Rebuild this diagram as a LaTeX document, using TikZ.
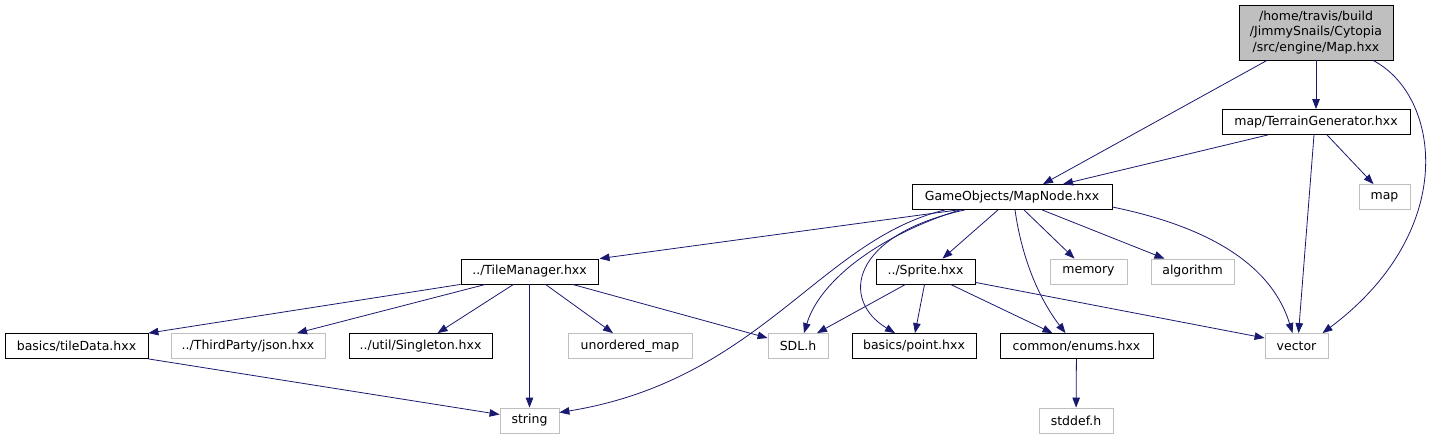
\documentclass[tikz,border=0pt]{standalone}
\usepackage{fontspec}
\setmainfont{DejaVu Sans}
\usepackage{tikz}
\usetikzlibrary{arrows.meta}
\definecolor{edgeblue}{HTML}{191970}
\definecolor{sysgray}{HTML}{BFBFBF}

\begin{document}
\begin{tikzpicture}[x=1pt, y=-1pt,
  file/.style={draw=black, rectangle, minimum height=25pt, inner sep=0pt,
    line width=0.8pt, font=\fontsize{12.5}{15.5}\selectfont},
  sys/.style={file, draw=sysgray},
  dep/.style={draw=edgeblue, line width=0.8pt,
    -{Triangle[length=10pt, width=7.5pt]}}]
  \useasboundingbox (0,0) rectangle (1442,440);

  % Top: the graphed file and its direct includes
  \node[file, fill=sysgray, minimum width=154pt, minimum height=55pt, align=center]
    (map) at (1316,32.5) {/home/travis/build\\/JimmySnails/Cytopia\\/src/engine/Map.hxx};
  \node[file, minimum width=188pt] (terrain) at (1316,122) {map/TerrainGenerator.hxx};
  \node[sys, minimum width=51pt] (mapl) at (1384.5,197) {map};
  \node[file, minimum width=200pt] (mapnode) at (1012,197) {GameObjects/MapNode.hxx};

  % Second row
  \node[file, minimum width=137pt] (tilemgr) at (529.5,271.5) {../TileManager.hxx};
  \node[file, minimum width=99pt] (sprite) at (925.5,271.5) {../Sprite.hxx};
  \node[sys, minimum width=77pt] (memory) at (1088.5,271.5) {memory};
  \node[sys, minimum width=83pt] (algorithm) at (1192.5,271.5) {algorithm};

  % Third row
  \node[file, minimum width=143pt] (tiledata) at (76.5,346) {basics/tileData.hxx};
  \node[sys, minimum width=154pt] (json) at (248,346) {../ThirdParty/json.hxx};
  \node[file, minimum width=143pt] (singleton) at (420.5,346) {../util/Singleton.hxx};
  \node[sys, minimum width=124pt] (umap) at (630,346) {unordered\_map};
  \node[sys, minimum width=60pt] (sdl) at (798,346) {SDL.h};
  \node[file, minimum width=124pt] (point) at (914,346) {basics/point.hxx};
  \node[file, minimum width=153pt] (enums) at (1076.5,346) {common/enums.hxx};
  \node[sys, minimum width=63pt] (vector) at (1296.5,346) {vector};

  % Bottom row
  \node[sys, minimum width=59pt] (string) at (529.5,420.5) {string};
  \node[sys, minimum width=74pt] (stddef) at (1076,420.5) {stddef.h};

  % Map.hxx
  \draw[dep] ([xshift=-49pt]map.south) -- ([xshift=31pt]mapnode.north);
  \draw[dep] (map) -- (terrain);
  \draw[dep] ([xshift=57pt]map.south) .. controls (1440,95) and (1460,230)
    .. ([xshift=26pt]vector.north);

  % TerrainGenerator.hxx
  \draw[dep] ([xshift=-48pt]terrain.south) -- ([xshift=51pt]mapnode.north);
  \draw[dep] ([xshift=-2pt]terrain.south) -- ([xshift=2pt]vector.north);
  \draw[dep] ([xshift=11pt]terrain.south) -- ([xshift=-11pt]mapl.north);

  % MapNode.hxx
  \draw[dep] ([xshift=-54pt]mapnode.south) -- ([xshift=70pt]tilemgr.north);
  \draw[dep] ([xshift=-67pt]mapnode.south) .. controls (820,240) and (760,380)
    .. ([yshift=8pt]string.east);
  \draw[dep] ([xshift=-52pt]mapnode.south) .. controls (880,235) and (820,280)
    .. ([xshift=6pt]sdl.north);
  \draw[dep] ([xshift=-47pt]mapnode.south) .. controls (850,235) and (840,300)
    .. ([xshift=-19pt]point.north);
  \draw[dep] ([xshift=-14pt]mapnode.south) -- ([xshift=17pt]sprite.north);
  \draw[dep] ([xshift=3pt]mapnode.south) .. controls (1022,260) and (1040,300)
    .. ([xshift=-11pt]enums.north);
  \draw[dep] ([xshift=12pt]mapnode.south) -- ([xshift=-14pt]memory.north);
  \draw[dep] ([xshift=30pt]mapnode.south) -- ([xshift=-28pt]algorithm.north);
  \draw[dep] ([yshift=-10pt]mapnode.east) .. controls (1200,225) and (1270,260)
    .. ([xshift=-4pt]vector.north);

  % TileManager.hxx
  \draw[dep] (tilemgr.south west) -- (tiledata.north east);
  \draw[dep] ([xshift=-44pt]tilemgr.south) -- ([xshift=49pt]json.north);
  \draw[dep] ([xshift=-16pt]tilemgr.south) -- ([xshift=17pt]singleton.north);
  \draw[dep] (tilemgr) -- (string);
  \draw[dep] ([xshift=16pt]tilemgr.south) -- ([xshift=-17pt]umap.north);
  \draw[dep] ([xshift=43pt]tilemgr.south) -- ([yshift=8pt]sdl.west);

  % tileData.hxx
  \draw[dep] (tiledata.south east) -- ([yshift=6pt]string.west);

  % Sprite.hxx
  \draw[dep] ([xshift=-20pt]sprite.south) -- ([xshift=19pt]sdl.north);
  \draw[dep] ([xshift=-1pt]sprite.south) -- ([xshift=1pt]point.north);
  \draw[dep] ([xshift=25pt]sprite.south) -- ([xshift=-24pt]enums.north);
  \draw[dep] ([yshift=2pt]sprite.south east) -- ([yshift=8pt]vector.west);

  % enums.hxx
  \draw[dep] (enums) -- (stddef);
\end{tikzpicture}
\end{document}
